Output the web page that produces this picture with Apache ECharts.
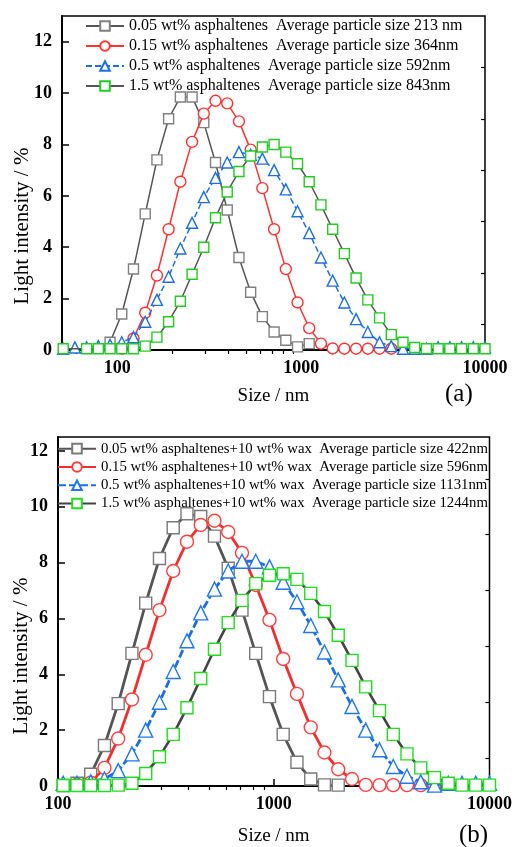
<!DOCTYPE html>
<html><head><meta charset="utf-8">
<script src="https://cdn.jsdelivr.net/npm/echarts@6/dist/echarts.min.js"></script>
<style>html,body{margin:0;padding:0;background:#fff}#c{width:515px;height:847px}</style>
</head><body><div id="c"></div>
<script>
// Size bins (nm), shared by all series
const sizeBins = [50.75, 58.77, 68.06, 78.82, 91.28, 105.7, 122.4, 141.8, 164.2, 190.1, 220.2, 255.0, 295.3, 342.0, 396.1, 458.7, 531.2, 615.1, 712.4, 825.0, 955.4, 1106, 1281, 1484, 1718, 1990, 2305, 2669, 3091, 3580, 4145, 4801, 5560, 6439, 7456, 8635, 10000];

// (a) asphaltenes only
const namesA = [
  '0.05 wt% asphaltenes  Average particle size 213 nm',
  '0.15 wt% asphaltenes  Average particle size 364nm',
  '0.5 wt% asphaltenes  Average particle size 592nm',
  '1.5 wt% asphaltenes  Average particle size 843nm'
];
const a005 = [null,null,null,null,0.3,1.4,3.15,5.3,7.4,9.0,9.85,9.85,8.85,7.3,5.45,3.6,2.25,1.3,0.7,0.38,0.12,0.25,null,null,null,null,null,null,null,null,null,null,null,null,null,null,null];
const a015 = [null,null,null,null,null,0.05,0.45,1.45,2.9,4.7,6.55,8.1,9.2,9.7,9.6,8.9,7.8,6.3,4.7,3.15,1.85,0.85,0.25,0.06,0.05,0.05,0.05,0.05,0.05,null,null,null,null,null,null,null,null];
const a05  = [0.05,0.1,0.1,0.15,0.2,0.3,0.5,1.1,1.95,2.85,3.95,4.95,5.95,6.7,7.3,7.7,7.6,7.45,7.0,6.25,5.4,4.55,3.6,2.7,1.85,1.2,0.7,0.3,0.15,0.05,0.05,0.05,0.1,0.1,0.1,0.1,0.1];
const a15  = [0.05,null,0.05,0.05,0.05,0.05,0.05,0.15,0.5,1.1,1.9,2.95,4.0,5.15,6.15,6.95,7.55,7.9,8.0,7.7,7.25,6.55,5.65,4.7,3.75,2.8,1.95,1.25,0.6,0.3,0.1,0.05,0.05,0.05,0.05,0.05,0.05];

// (b) asphaltenes + 10 wt% wax
const namesB = [
  '0.05 wt% asphaltenes+10 wt% wax  Average particle size 422nm',
  '0.15 wt% asphaltenes+10 wt% wax  Average particle size 596nm',
  '0.5 wt% asphaltenes+10 wt% wax  Average particle size 1131nm',
  '1.5 wt% asphaltenes+10 wt% wax  Average particle size 1244nm'
];
const b005 = [null,null,null,null,null,0.02,0.1,0.42,1.45,2.95,4.75,6.55,8.15,9.25,9.75,9.65,8.95,7.8,6.3,4.75,3.2,1.85,0.85,0.25,0.04,0.03,null,null,null,null,null,null,null,null,null,null,null];
const b015 = [null,null,null,null,null,null,0.05,0.12,0.65,1.7,3.1,4.7,6.3,7.7,8.75,9.35,9.5,9.1,8.35,7.2,5.95,4.55,3.3,2.1,1.2,0.6,0.25,0.04,0.03,0.03,0.03,0.03,0.03,null,null,null,null];
const b05  = [null,null,null,null,null,0.1,0.1,0.15,0.25,0.55,1.15,2.0,3.0,4.1,5.2,6.2,7.05,7.7,8.05,8.05,7.85,7.3,6.6,5.75,4.8,3.8,2.85,2.0,1.3,0.7,0.35,0.15,0.03,0.1,0.1,0.1,0.1];
const b15  = [null,null,null,null,null,0.02,0.02,0.02,0.02,0.03,0.1,0.45,1.05,1.85,2.8,3.85,4.9,5.85,6.65,7.25,7.55,7.6,7.4,6.9,6.25,5.4,4.5,3.55,2.7,1.85,1.15,0.65,0.3,0.1,0.03,0.03,0.03];

// Tick values and axis titles
const xMajorTicks = [100, 1000, 10000];
const xMinorTicksA = [60, 70, 80, 90, 200, 300, 400, 500, 600, 700, 800, 900, 2000, 3000, 4000, 5000, 6000, 7000, 8000, 9000];
const xMinorTicksB = [200, 300, 400, 500, 600, 700, 800, 900, 2000, 3000, 4000, 5000, 6000, 7000, 8000, 9000];
const yMajorTicks = [0, 2, 4, 6, 8, 10, 12];
const yMinorTicks = [1, 3, 5, 7, 9, 11];
const xTitle = 'Size / nm';
const yTitle = 'Light intensity / %';

const FONT = "'Liberation Serif', 'Times New Roman', serif";

function pairs(vals) {
  const out = [];
  sizeBins.forEach((b, i) => { if (vals[i] != null) out.push([b, vals[i]]); });
  return out;
}

function xMain(grid, min, max, gap) {
  return {
    type: 'log', logBase: 10, gridIndex: grid, min: min, max: max,
    name: xTitle, nameLocation: 'middle', nameGap: gap,
    nameTextStyle: { fontFamily: FONT, fontSize: 19, color: '#000' },
    axisLine: { show: true, lineStyle: { color: '#000', width: 2 } },
    axisTick: { show: true, inside: true, length: 7, customValues: xMajorTicks, lineStyle: { color: '#000', width: 1.5 } },
    axisLabel: { customValues: xMajorTicks, formatter: v => String(Math.round(v)), margin: 9,
      alignMinLabel: 'center', alignMaxLabel: 'center', hideOverlap: false,
      fontFamily: FONT, fontSize: 18, fontWeight: 'bold', color: '#000' },
    splitLine: { show: false }, minorTick: { show: false }
  };
}
function xMinor(grid, min, max, ticks) {
  return {
    type: 'log', logBase: 10, gridIndex: grid, min: min, max: max,
    axisLine: { show: false },
    axisTick: { show: true, inside: true, length: 4, customValues: ticks, lineStyle: { color: '#000', width: 1.2 } },
    axisLabel: { show: false }, splitLine: { show: false }
  };
}
function yMain(grid, max) {
  return {
    type: 'value', gridIndex: grid, min: 0, max: max,
    axisLine: { show: true, lineStyle: { color: '#000', width: 2 } },
    axisTick: { show: true, inside: true, length: 7, customValues: yMajorTicks, lineStyle: { color: '#000', width: 1.5 } },
    axisLabel: { customValues: yMajorTicks, margin: 10, fontFamily: FONT, fontSize: 18, fontWeight: 'bold', color: '#000' },
    splitLine: { show: false }
  };
}
function yMinor(grid, max) {
  return {
    type: 'value', gridIndex: grid, min: 0, max: max,
    axisLine: { show: false },
    axisTick: { show: true, inside: true, length: 4, customValues: yMinorTicks, lineStyle: { color: '#000', width: 1.2 } },
    axisLabel: { show: false }, splitLine: { show: false }
  };
}

function mk(name, vals, xi, yi, o) {
  return {
    type: 'line', name: name, data: pairs(vals), xAxisIndex: xi, yAxisIndex: yi,
    symbol: o.symbol, symbolSize: o.size, showSymbol: true, clip: true,
    lineStyle: { color: o.line, width: o.lw, type: o.dash || 'solid' },
    itemStyle: { color: '#fff', borderColor: o.mark, borderWidth: o.bw || 1.4 },
    emphasis: { disabled: true }, z: o.z
  };
}

const series = [
  mk(namesA[0], a005, 0, 0, { symbol: 'rect', size: 10, line: '#555', mark: '#808080', lw: 1.5, z: 2 }),
  mk(namesA[1], a015, 0, 0, { symbol: 'circle', size: 11, line: '#ff3333', mark: '#ff3333', lw: 1.5, z: 3 }),
  mk(namesA[2], a05, 0, 0, { symbol: 'triangle', size: 11, line: '#1f6fe0', mark: '#1f6fe0', lw: 1.5, dash: [6, 3], z: 4 }),
  mk(namesA[3], a15, 0, 0, { symbol: 'rect', size: 10, line: '#555', mark: '#22cc22', lw: 1.5, z: 5 }),
  mk(namesB[0], b005, 2, 2, { symbol: 'rect', size: 12, line: '#555', mark: '#7a7a7a', lw: 2.8, z: 2 }),
  mk(namesB[1], b015, 2, 2, { symbol: 'circle', size: 13, line: '#f03030', mark: '#ff4040', lw: 2.8, z: 3 }),
  mk(namesB[2], b05, 2, 2, { symbol: 'triangle', size: 14, line: '#1b6fe0', mark: '#2277ee', lw: 2.8, dash: [8, 3], z: 4 }),
  mk(namesB[3], b15, 2, 2, { symbol: 'rect', size: 12, line: '#444', mark: '#22dd22', lw: 2.6, z: 5 })
];

const chart = echarts.init(document.getElementById('c'), null, { renderer: 'canvas' });
chart.setOption({
  animation: false,
  backgroundColor: '#fff',
  grid: [
    { left: 62, top: 16, width: 423, height: 334, show: true, borderColor: '#000', borderWidth: 1.5, backgroundColor: 'transparent' },
    { left: 58, top: 437, width: 432, height: 349, show: true, borderColor: '#000', borderWidth: 1.5, backgroundColor: 'transparent' }
  ],
  xAxis: [ xMain(0, 50, 10000, 37), xMinor(0, 50, 10000, xMinorTicksA), xMain(1, 100, 10000, 41), xMinor(1, 100, 10000, xMinorTicksB) ],
  yAxis: [ yMain(0, 13), yMinor(0, 13), yMain(1, 12.5), yMinor(1, 12.5) ],
  legend: [
    { data: namesA, orient: 'vertical', left: 85, top: 17, padding: 0, itemWidth: 38, itemHeight: 12, itemGap: 2,
      textStyle: { fontFamily: FONT, fontSize: 16, color: '#000', lineHeight: 18 }, selectedMode: false },
    { data: namesB, orient: 'vertical', left: 57, top: 440, padding: 0, itemWidth: 38, itemHeight: 12, itemGap: 1,
      textStyle: { fontFamily: FONT, fontSize: 14.8, color: '#000', lineHeight: 17.3 }, selectedMode: false }
  ],
  title: [
    { text: '(a)', left: 445, top: 382, padding: 0, textStyle: { fontFamily: FONT, fontSize: 25, fontWeight: 'normal', color: '#000' } },
    { text: '(b)', left: 459, top: 823, padding: 0, textStyle: { fontFamily: FONT, fontSize: 25, fontWeight: 'normal', color: '#000' } }
  ],
  graphic: [
    { type: 'text', x: 22, y: 226, rotation: Math.PI / 2,
      style: { text: yTitle, font: "21px 'Liberation Serif', serif", fill: '#000', textAlign: 'center', textVerticalAlign: 'middle' } },
    { type: 'text', x: 21, y: 656, rotation: Math.PI / 2,
      style: { text: yTitle, font: "21px 'Liberation Serif', serif", fill: '#000', textAlign: 'center', textVerticalAlign: 'middle' } }
  ],
  series: series
});
</script></body></html>
